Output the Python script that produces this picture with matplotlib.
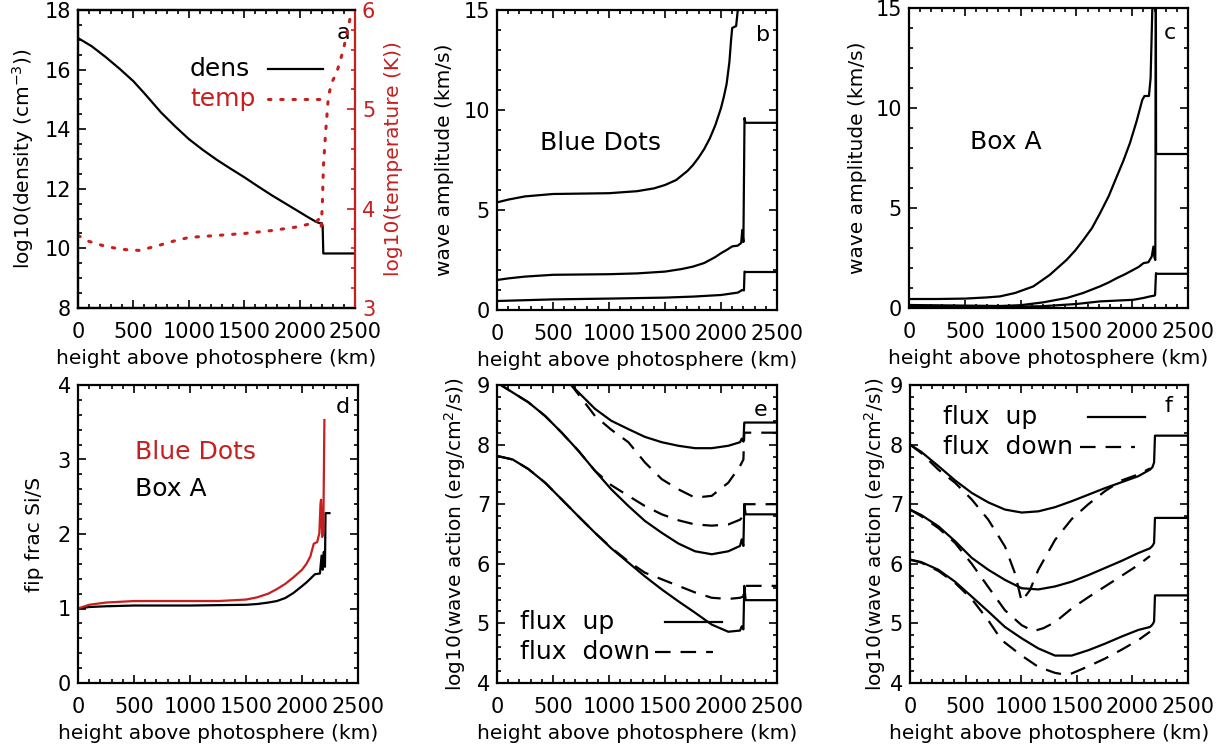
import numpy as np
import matplotlib
matplotlib.use('Agg')
import matplotlib.pyplot as plt
from matplotlib.ticker import MultipleLocator

RED = '#c81e1e'

## panel a: density and temperature ##
h_dens = [0, 125, 250, 375, 500, 600, 750, 875, 1000, 1125, 1250, 1375, 1500, 1625, 1750, 1875, 2000,
          2075, 2150, 2180, 2200, 2208, 2214, 2500]
dens = [17.06, 16.78, 16.42, 16.03, 15.61, 15.2, 14.56, 14.1, 13.67, 13.31, 12.98, 12.68, 12.39, 12.08,
        11.78, 11.5, 11.22, 11.05, 10.89, 10.85, 10.85, 10.75, 9.83, 9.83]
h_temp = [0, 100, 250, 400, 550, 700, 850, 1000, 1250, 1500, 1750, 2000, 2100, 2150, 2180, 2195,
          2205, 2215, 2235, 2260, 2290, 2335, 2395, 2440, 2465]
temp = [3.73, 3.67, 3.62, 3.59, 3.58, 3.62, 3.67, 3.71, 3.73, 3.75, 3.78, 3.82, 3.85, 3.87, 3.9, 3.82,
        4.03, 4.43, 4.77, 5.13, 5.27, 5.37, 5.6, 5.83, 5.97]

## panel b: wave amplitude, blue dots ##
h_b1 = [0, 100, 250, 500, 1000, 1250, 1400, 1500, 1600, 1700, 1750, 1800, 1850, 1900, 1950, 2000,
        2025, 2050, 2075, 2090, 2100, 2135, 2150, 2160]
amp_b1 = [5.38, 5.52, 5.68, 5.8, 5.84, 5.94, 6.08, 6.25, 6.5, 6.95, 7.25, 7.62, 8.05, 8.58, 9.25, 10.1,
          10.65, 11.3, 12.4, 13.5, 14.1, 14.2, 15.0, 15.6]
h_b2 = [0, 100, 250, 500, 1000, 1250, 1500, 1650, 1750, 1850, 1950, 2000, 2050, 2100, 2150, 2180,
        2190, 2200, 2210, 2218, 2500]
amp_b2 = [1.5, 1.58, 1.67, 1.76, 1.79, 1.83, 1.92, 2.05, 2.17, 2.35, 2.65, 2.84, 3.0, 3.18, 3.22, 3.35,
          4.0, 3.4, 9.6, 9.36, 9.36]
h_b3 = [0, 500, 1000, 1500, 1750, 2000, 2100, 2150, 2190, 2205, 2210, 2218, 2500]
amp_b3 = [0.45, 0.53, 0.57, 0.62, 0.67, 0.75, 0.83, 0.87, 1.0, 0.98, 1.92, 1.9, 1.9]

## panel c: wave amplitude, box A ##
h_c1 = [0, 250, 500, 700, 815, 950, 1114, 1260, 1413, 1490, 1562, 1640, 1711, 1790, 1861, 1920, 1980,
        2040, 2090, 2110, 2150, 2165, 2180, 2195]
amp_c1 = [0.45, 0.45, 0.47, 0.53, 0.58, 0.75, 1.08, 1.65, 2.41, 2.88, 3.4, 4.0, 4.73, 5.6, 6.56, 7.35,
          8.25, 9.35, 10.4, 10.6, 10.6, 11.5, 14.9, 15.5]
h_c2 = [0, 500, 815, 1000, 1200, 1413, 1560, 1711, 1790, 1861, 1940, 2010, 2060, 2100, 2145, 2175,
        2190, 2200, 2207, 2212, 2214, 2225, 2500]
amp_c2 = [0.15, 0.12, 0.1, 0.14, 0.28, 0.5, 0.75, 1.08, 1.28, 1.49, 1.7, 1.91, 2.06, 2.24, 2.29, 2.57,
          3.07, 2.5, 2.4, 16.0, 7.75, 7.7, 7.7]
h_c3 = [0, 815, 1200, 1500, 1711, 1860, 2010, 2100, 2160, 2200, 2205, 2213, 2225, 2500]
amp_c3 = [0.1, 0.05, 0.09, 0.2, 0.33, 0.37, 0.41, 0.5, 0.58, 0.62, 0.65, 1.74, 1.71, 1.71]

## panel d: fip fractionation ##
h_red = [0, 100, 250, 500, 1000, 1250, 1500, 1600, 1700, 1775, 1850, 1925, 2000, 2040, 2075, 2105,
         2135, 2155, 2165, 2170, 2180, 2190, 2200]
fip_red = [1.0, 1.05, 1.08, 1.1, 1.1, 1.1, 1.12, 1.15, 1.2, 1.26, 1.33, 1.42, 1.52, 1.6, 1.7, 1.87,
           1.89, 2.01, 2.4, 2.46, 1.96, 2.01, 3.53]
h_blk = [0, 100, 250, 500, 1000, 1500, 1600, 1700, 1775, 1850, 1925, 2000, 2040, 2075, 2115, 2160,
         2175, 2185, 2195, 2205, 2210, 2245]
fip_blk = [1.0, 1.02, 1.03, 1.04, 1.04, 1.05, 1.06, 1.08, 1.1, 1.14, 1.21, 1.3, 1.35, 1.4, 1.46, 1.47,
           1.71, 1.52, 1.76, 1.56, 2.28, 2.28]

## panel e: wave action, blue dots ##
h_es1 = [500, 667, 875, 1020, 1173, 1320, 1471, 1620, 1768, 1917, 2065, 2170, 2185, 2200, 2208, 2500]
e_up1 = [9.35, 8.99, 8.6, 8.4, 8.26, 8.13, 8.04, 7.98, 7.94, 7.94, 7.98, 8.04, 8.1, 8.05, 8.37, 8.37]
h_es2 = [0, 42, 280, 430, 578, 725, 875, 1020, 1173, 1320, 1471, 1620, 1768, 1917, 2065, 2170, 2185,
         2200, 2208, 2220, 2500]
e_up2 = [9.05, 8.99, 8.71, 8.48, 8.2, 7.9, 7.56, 7.25, 6.97, 6.72, 6.52, 6.34, 6.21, 6.16, 6.21, 6.3,
         6.41, 6.3, 7.0, 6.83, 6.83]
h_es3 = [0, 140, 280, 430, 578, 725, 875, 1020, 1173, 1320, 1471, 1620, 1768, 1917, 2065, 2170, 2185,
         2200, 2208, 2220, 2500]
e_up3 = [7.81, 7.75, 7.59, 7.36, 7.08, 6.8, 6.52, 6.26, 6.02, 5.79, 5.57, 5.37, 5.18, 4.98, 4.86, 4.88,
         4.95, 4.9, 5.63, 5.39, 5.39]
h_ed1 = [500, 667, 875, 1020, 1173, 1321, 1471, 1619, 1768, 1917, 2065, 2170, 2200, 2208, 2500]
e_dn1 = [9.35, 8.99, 8.48, 8.25, 8.04, 7.7, 7.42, 7.25, 7.11, 7.14, 7.36, 7.64, 7.75, 8.2, 8.2]
h_ed2 = [0, 42, 280, 430, 578, 725, 875, 1020, 1173, 1320, 1471, 1620, 1768, 1917, 2065, 2170, 2200,
         2208, 2500]
e_dn2 = [9.05, 8.99, 8.71, 8.48, 8.2, 7.9, 7.56, 7.32, 7.14, 6.97, 6.83, 6.73, 6.66, 6.64, 6.66, 6.74,
         6.8, 7.0, 7.0]
h_ed3 = [0, 140, 280, 430, 578, 725, 875, 1020, 1173, 1321, 1471, 1619, 1768, 1917, 2065, 2170, 2200,
         2208, 2500]
e_dn3 = [7.81, 7.75, 7.59, 7.36, 7.08, 6.8, 6.52, 6.27, 6.04, 5.85, 5.74, 5.63, 5.52, 5.43, 5.41, 5.43,
         5.45, 5.63, 5.63]

## panel f: wave action, box A ##
h_f = [0, 100, 255, 405, 555, 704, 854, 1004, 1154, 1304, 1454, 1604, 1754, 1904, 2053, 2158, 2180,
       2195, 2203, 2500]
f_up1 = [8.0, 7.88, 7.64, 7.4, 7.19, 7.03, 6.91, 6.86, 6.88, 6.95, 7.05, 7.16, 7.27, 7.37, 7.47, 7.58,
         7.62, 7.7, 8.15, 8.15]
f_up2 = [6.91, 6.82, 6.63, 6.38, 6.1, 5.9, 5.73, 5.59, 5.57, 5.62, 5.7, 5.81, 5.93, 6.05, 6.18, 6.26,
         6.3, 6.35, 6.77, 6.77]
f_up3 = [6.07, 6.03, 5.9, 5.7, 5.45, 5.2, 4.94, 4.75, 4.58, 4.46, 4.46, 4.55, 4.66, 4.78, 4.89, 4.94,
         4.98, 5.03, 5.47, 5.47]
h_fd1 = [0, 100, 255, 405, 555, 704, 854, 944, 1004, 1079, 1154, 1304, 1454, 1604, 1754, 1904, 2053, 2158]
f_dn1 = [8.0, 7.86, 7.58, 7.36, 7.08, 6.74, 6.29, 5.84, 5.37, 5.56, 5.9, 6.4, 6.75, 7.0, 7.22, 7.4, 7.5, 7.6]
h_fd2 = [0, 100, 255, 405, 555, 704, 854, 1004, 1109, 1200, 1304, 1454, 1604, 1754, 1904, 2053, 2158]
f_dn2 = [6.91, 6.8, 6.6, 6.35, 6.0, 5.61, 5.22, 4.97, 4.87, 4.92, 5.02, 5.25, 5.44, 5.62, 5.8, 5.98, 6.13]
h_fd3 = [0, 100, 255, 405, 555, 704, 824, 1004, 1154, 1304, 1394, 1454, 1604, 1754, 1904, 2053, 2158]
f_dn3 = [6.07, 6.02, 5.88, 5.68, 5.41, 5.05, 4.72, 4.46, 4.27, 4.17, 4.14, 4.16, 4.28, 4.41, 4.56, 4.72, 4.86]

xlab = 'height above photosphere (km)'
W, H = 1221, 745
fig = plt.figure(figsize=(12.21, 7.45), dpi=100)


def box(l, t, r, b):
    return [l / W, 1 - b / H, (r - l) / W, (b - t) / H]


def style(ax, ylim, ymaj, ymin, ylab, ylx, right=True):
    ax.set_xlim(0, 2500)
    ax.set_ylim(*ylim)
    ax.xaxis.set_major_locator(MultipleLocator(500))
    ax.xaxis.set_minor_locator(MultipleLocator(100))
    ax.yaxis.set_major_locator(MultipleLocator(ymaj))
    ax.yaxis.set_minor_locator(MultipleLocator(ymin))
    ax.tick_params(which='both', direction='in', top=True, right=right, width=1.2)
    ax.tick_params(which='major', length=6)
    ax.tick_params(which='minor', length=3)
    ax.tick_params(axis='x', pad=10, labelsize=15)
    ax.tick_params(axis='y', pad=5, labelsize=15)
    for s in ax.spines.values():
        s.set_linewidth(1.6)
    ax.set_xlabel(xlab, fontsize=14.5)
    ax.xaxis.set_label_coords(0.5, -0.168)
    ax.xaxis.label.set_va('center')
    ax.set_ylabel(ylab, fontsize=14.5)
    ax.yaxis.set_label_coords(ylx, 0.5)
    ax.yaxis.label.set_va('center')


def key(ax, x0, y, x1, x2, label, **kw):
    ax.text(x0, y, label, transform=ax.transAxes, fontsize=18, va='center', ha='left',
            color=kw.get('color', 'black'))
    ax.plot([x1, x2], [y, y], transform=ax.transAxes, clip_on=False, **kw)


lw = 1.6
dash = (0, (7, 4.5))
dots = (0, (0.8, 3.2))

# a
ax = fig.add_axes(box(78, 10, 355, 308))
ax.plot(h_dens, dens, color='black', lw=lw)
style(ax, (8, 18), 2, 0.5, 'log10(density (cm$^{-3}$))', -0.2, right=False)
ax.spines['right'].set_visible(False)
axt = ax.twinx()
axt.plot(h_temp, temp, color=RED, lw=2.2, linestyle=dots, dash_capstyle='round')
axt.set_ylim(3, 6)
axt.set_xlim(0, 2500)
axt.yaxis.set_major_locator(MultipleLocator(1))
axt.yaxis.set_minor_locator(MultipleLocator(0.2))
axt.tick_params(which='both', direction='in', colors=RED, width=1.2, labelsize=15, pad=5)
axt.tick_params(which='major', length=6)
axt.tick_params(which='minor', length=3)
for s in axt.spines.values():
    s.set_linewidth(1.6)
axt.spines['right'].set_color(RED)
axt.set_ylabel('log10(temperature (K))', fontsize=14.5, color=RED)
axt.yaxis.set_label_coords(1.14, 0.5)
axt.yaxis.label.set_va('center')
key(axt, 0.404, 0.802, 0.686, 0.884, 'dens', color='black', lw=lw)
key(axt, 0.404, 0.70, 0.686, 0.88, 'temp', color=RED, lw=2.2, linestyle=dots, dash_capstyle='round')
ax.text(0.957, 0.923, 'a', transform=ax.transAxes, fontsize=16, ha='center', va='center')

# b
ax = fig.add_axes(box(497, 10, 777, 310))
for hh, vv in [(h_b1, amp_b1), (h_b2, amp_b2), (h_b3, amp_b3)]:
    ax.plot(hh, vv, color='black', lw=lw)
style(ax, (0, 15), 5, 1, 'wave amplitude (km/s)', -0.186)
ax.text(0.368, 0.557, 'Blue Dots', transform=ax.transAxes, fontsize=18, ha='center', va='center')
ax.text(0.95, 0.917, 'b', transform=ax.transAxes, fontsize=16, ha='center', va='center')

# c
ax = fig.add_axes(box(909, 8, 1188, 308))
for hh, vv in [(h_c1, amp_c1), (h_c2, amp_c2), (h_c3, amp_c3)]:
    ax.plot(hh, vv, color='black', lw=lw)
style(ax, (0, 15), 5, 1, 'wave amplitude (km/s)', -0.186)
ax.text(0.348, 0.553, 'Box A', transform=ax.transAxes, fontsize=18, ha='center', va='center')
ax.text(0.935, 0.917, 'c', transform=ax.transAxes, fontsize=16, ha='center', va='center')

# d
ax = fig.add_axes(box(78, 385, 358, 683))
ax.plot(h_blk, fip_blk, color='black', lw=lw)
ax.plot(h_red, fip_red, color=RED, lw=lw)
style(ax, (0, 4), 1, 0.2, 'fip frac Si/S', -0.154)
ax.text(0.204, 0.775, 'Blue Dots', transform=ax.transAxes, fontsize=18, color=RED, va='center')
ax.text(0.204, 0.651, 'Box A', transform=ax.transAxes, fontsize=18, va='center')
ax.text(0.946, 0.926, 'd', transform=ax.transAxes, fontsize=16, ha='center', va='center')

# e
ax = fig.add_axes(box(497, 385, 777, 683))
for hh, vv in [(h_es1, e_up1), (h_es2, e_up2), (h_es3, e_up3)]:
    ax.plot(hh, vv, color='black', lw=lw)
for hh, vv in [(h_ed1, e_dn1), (h_ed2, e_dn2), (h_ed3, e_dn3)]:
    ax.plot(hh, vv, color='black', lw=lw, linestyle=dash)
style(ax, (4, 9), 1, 0.2, 'log10(wave action (erg/cm$^2$/s))', -0.15)
key(ax, 0.082, 0.205, 0.6, 0.804, 'flux  up', color='black', lw=lw)
key(ax, 0.082, 0.104, 0.564, 0.771, 'flux  down', color='black', lw=lw, linestyle=dash)
ax.text(0.94, 0.916, 'e', transform=ax.transAxes, fontsize=16, ha='center', va='center')

# f
ax = fig.add_axes(box(910, 385, 1188, 683))
for vv in [f_up1, f_up2, f_up3]:
    ax.plot(h_f, vv, color='black', lw=lw)
for hh, vv in [(h_fd1, f_dn1), (h_fd2, f_dn2), (h_fd3, f_dn3)]:
    ax.plot(hh, vv, color='black', lw=lw, linestyle=dash)
style(ax, (4, 9), 1, 0.2, 'log10(wave action (erg/cm$^2$/s))', -0.126)
key(ax, 0.119, 0.893, 0.64, 0.845, 'flux  up', color='black', lw=lw)
key(ax, 0.119, 0.792, 0.612, 0.81, 'flux  down', color='black', lw=lw, linestyle=dash)
ax.text(0.928, 0.93, 'f', transform=ax.transAxes, fontsize=16, ha='center', va='center')

fig.savefig('out.png', dpi=100)
